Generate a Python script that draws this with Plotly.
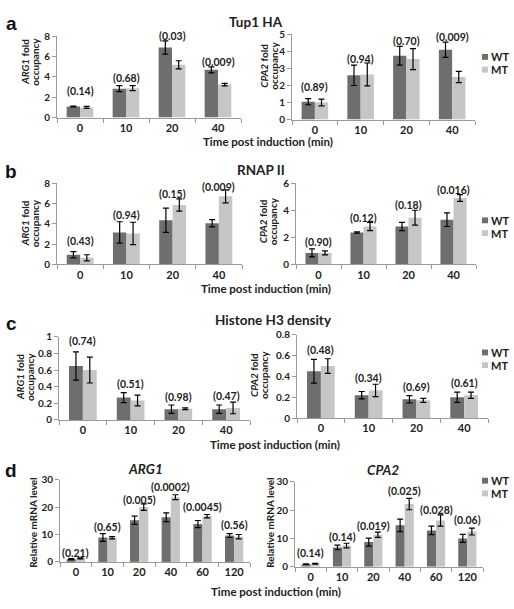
import plotly.graph_objects as go

W, H = 514, 609
WT_COLOR = "#6e6e6e"
MT_COLOR = "#c6c6c6"
AXIS_COLOR = "#9a9a9a"
FONT = "Lato"

# ---------------- data ----------------
time4 = ["0", "10", "20", "40"]
time6 = ["0", "10", "20", "40", "60", "120"]

# a: Tup1 HA
a_arg1_wt = [1.1, 2.85, 6.9, 4.7]
a_arg1_wt_err = [0.04, 0.3, 0.65, 0.3]
a_arg1_mt = [1.0, 2.9, 5.2, 3.25]
a_arg1_mt_err = [0.1, 0.25, 0.4, 0.12]
a_arg1_p = ["(0.14)", "(0.68)", "(0.03)", "(0.009)"]
a_arg1_p_y = [2.6, 3.9, 8.0, 5.5]

a_cpa2_wt = [1.05, 2.6, 3.75, 4.1]
a_cpa2_wt_err = [0.18, 0.6, 0.55, 0.45]
a_cpa2_mt = [1.0, 2.65, 3.55, 2.5]
a_cpa2_mt_err = [0.2, 0.67, 0.62, 0.33]
a_cpa2_p = ["(0.89)", "(0.94)", "(0.70)", "(0.009)"]
a_cpa2_p_y = [1.9, 3.55, 4.6, 4.85]

# b: RNAP II
b_arg1_wt = [0.95, 3.15, 4.35, 4.05]
b_arg1_wt_err = [0.3, 1.05, 1.2, 0.35]
b_arg1_mt = [0.65, 3.05, 5.85, 6.7]
b_arg1_mt_err = [0.3, 1.1, 0.6, 0.65]
b_arg1_p = ["(0.43)", "(0.94)", "(0.15)", "(0.009)"]
b_arg1_p_y = [2.3, 4.9, 6.9, 7.6]

b_cpa2_wt = [0.85, 2.35, 2.8, 3.3]
b_cpa2_wt_err = [0.3, 0.05, 0.3, 0.5]
b_cpa2_mt = [0.85, 2.8, 3.45, 4.9]
b_cpa2_mt_err = [0.15, 0.3, 0.55, 0.25]
b_cpa2_p = ["(0.90)", "(0.12)", "(0.18)", "(0.016)"]
b_cpa2_p_y = [1.65, 3.45, 4.35, 5.5]

# c: Histone H3 density
c_arg1_wt = [0.65, 0.27, 0.13, 0.13]
c_arg1_wt_err = [0.17, 0.06, 0.05, 0.05]
c_arg1_mt = [0.6, 0.235, 0.135, 0.145]
c_arg1_mt_err = [0.155, 0.065, 0.01, 0.07]
c_arg1_p = ["(0.74)", "(0.51)", "(0.98)", "(0.47)"]
c_arg1_p_y = [0.95, 0.43, 0.28, 0.29]

c_cpa2_wt = [0.45, 0.22, 0.18, 0.2]
c_cpa2_wt_err = [0.115, 0.035, 0.035, 0.05]
c_cpa2_mt = [0.5, 0.265, 0.17, 0.22]
c_cpa2_mt_err = [0.07, 0.06, 0.02, 0.03]
c_cpa2_p = ["(0.48)", "(0.34)", "(0.69)", "(0.61)"]
c_cpa2_p_y = [0.655, 0.385, 0.295, 0.34]

# d: relative mRNA level
d_arg1_wt = [1.0, 8.9, 15.2, 16.3, 13.8, 9.6]
d_arg1_wt_err = [0.2, 1.4, 1.5, 1.6, 1.3, 0.7]
d_arg1_mt = [1.3, 8.8, 20.0, 23.6, 16.7, 9.2]
d_arg1_mt_err = [0.2, 0.4, 1.2, 0.9, 0.6, 0.8]
d_arg1_p = ["(0.21)", "(0.65)", "(0.005)", "(0.0002)", "(0.0045)", "(0.56)"]
d_arg1_p_y = [3.4, 12.8, 22.6, 27.3, 20.1, 13.4]

d_cpa2_wt = [0.9, 6.8, 8.7, 14.6, 12.8, 10.0]
d_cpa2_wt_err = [0.1, 0.8, 1.4, 2.2, 1.5, 1.4]
d_cpa2_mt = [1.1, 7.5, 11.3, 22.1, 16.3, 12.4]
d_cpa2_mt_err = [0.15, 0.8, 0.9, 2.0, 2.0, 1.2]
d_cpa2_p = ["(0.14)", "(0.14)", "(0.019)", "(0.025)", "(0.028)", "(0.06)"]
d_cpa2_p_y = [4.9, 10.6, 14.5, 26.7, 20.1, 16.6]

# ---------------- layout helpers ----------------
def px(x):
    return x / W

def py(y):
    return 1 - y / H

panels = [
    dict(cats=time4, wt=a_arg1_wt, wte=a_arg1_wt_err, mt=a_arg1_mt, mte=a_arg1_mt_err,
         p=a_arg1_p, py=a_arg1_p_y, yr=[0, 8], dt=2, xd=(57, 241), yd=(30, 113),
         yt=["<i>ARG1</i> fold", "occupancy"], ytx=(25, 35), yty=56),
    dict(cats=time4, wt=a_cpa2_wt, wte=a_cpa2_wt_err, mt=a_cpa2_mt, mte=a_cpa2_mt_err,
         p=a_cpa2_p, py=a_cpa2_p_y, yr=[0, 5], dt=1, xd=(292, 475), yd=(28, 115),
         yt=["<i>CPA2</i> fold", "occupancy"], ytx=(264, 274), yty=60),
    dict(cats=time4, wt=b_arg1_wt, wte=b_arg1_wt_err, mt=b_arg1_mt, mte=b_arg1_mt_err,
         p=b_arg1_p, py=b_arg1_p_y, yr=[0, 8], dt=2, xd=(57, 242), yd=(180, 263),
         yt=["<i>ARG1</i> fold", "occupancy"], ytx=(25, 35), yty=221),
    dict(cats=time4, wt=b_cpa2_wt, wte=b_cpa2_wt_err, mt=b_cpa2_mt, mte=b_cpa2_mt_err,
         p=b_cpa2_p, py=b_cpa2_p_y, yr=[0, 6], dt=2, xd=(296, 476), yd=(180, 263),
         yt=["<i>CPA2</i> fold", "occupancy"], ytx=(263, 273), yty=219),
    dict(cats=time4, wt=c_arg1_wt, wte=c_arg1_wt_err, mt=c_arg1_mt, mte=c_arg1_mt_err,
         p=c_arg1_p, py=c_arg1_p_y, yr=[0, 1], dt=0.2, xd=(59, 250), yd=(337, 422),
         yt=["<i>ARG1</i> fold", "occupancy"], ytx=(20, 30), yty=378),
    dict(cats=time4, wt=c_cpa2_wt, wte=c_cpa2_wt_err, mt=c_cpa2_mt, mte=c_cpa2_mt_err,
         p=c_cpa2_p, py=c_cpa2_p_y, yr=[0, 0.8], dt=0.2, xd=(297, 488), yd=(335, 420),
         yt=["<i>CPA2</i> fold", "occupancy"], ytx=(254, 264), yty=376),
    dict(cats=time6, wt=d_arg1_wt, wte=d_arg1_wt_err, mt=d_arg1_mt, mte=d_arg1_mt_err,
         p=d_arg1_p, py=d_arg1_p_y, yr=[0, 30], dt=10, xd=(60, 250), yd=(483, 567),
         yt=["Relative mRNA level"], ytx=(33,), yty=527),
    dict(cats=time6, wt=d_cpa2_wt, wte=d_cpa2_wt_err, mt=d_cpa2_mt, mte=d_cpa2_mt_err,
         p=d_cpa2_p, py=d_cpa2_p_y, yr=[0, 30], dt=10, xd=(295, 483), yd=(485, 572),
         yt=["Relative mRNA level"], ytx=(270,), yty=527),
]

fig = go.Figure()
annotations = []
shapes = []
layout_axes = {}

xtickfont = dict(family=FONT, size=11, color="#222", weight="bold")
ytickfont = dict(family=FONT, size=10, color="#222", weight="bold")

for i, p in enumerate(panels, start=1):
    xa = "x" if i == 1 else f"x{i}"
    ya = "y" if i == 1 else f"y{i}"
    err_style = dict(type="data", color="black", thickness=1.2, width=3, visible=True)
    fig.add_trace(go.Bar(x=p["cats"], y=p["wt"], name="WT", marker_color=WT_COLOR,
                         marker_line_width=0,
                         error_y=dict(array=p["wte"], **err_style),
                         xaxis=xa, yaxis=ya, showlegend=False))
    fig.add_trace(go.Bar(x=p["cats"], y=p["mt"], name="MT", marker_color=MT_COLOR,
                         marker_line_width=0,
                         error_y=dict(array=p["mte"], **err_style),
                         xaxis=xa, yaxis=ya, showlegend=False))
    n = len(p["cats"])
    xkey = "xaxis" if i == 1 else f"xaxis{i}"
    ykey = "yaxis" if i == 1 else f"yaxis{i}"
    layout_axes[xkey] = dict(
        domain=[px(p["xd"][0]), px(p["xd"][1])], anchor=ya, type="category",
        categoryorder="array", categoryarray=p["cats"], range=[-0.5, n - 0.5],
        showline=True, linecolor=AXIS_COLOR, linewidth=1, tickangle=0,
        ticks="outside", tickson="boundaries", ticklen=4, tickcolor=AXIS_COLOR,
        tickfont=xtickfont, showgrid=False, zeroline=False, fixedrange=True,
    )
    layout_axes[ykey] = dict(
        domain=[py(p["yd"][1]), py(p["yd"][0])], anchor=xa, range=p["yr"],
        dtick=p["dt"], tick0=0, showline=True, linecolor=AXIS_COLOR, linewidth=1,
        ticks="outside", ticklen=4, tickcolor=AXIS_COLOR, tickfont=ytickfont,
        showgrid=False, zeroline=False, fixedrange=True,
    )
    # p-value labels (x given as category index)
    for j, (t, yv) in enumerate(zip(p["p"], p["py"])):
        annotations.append(dict(x=j, y=yv, xref=xa, yref=ya, text=t, showarrow=False,
                                font=dict(family=FONT, size=10.5, color="#222", weight="bold")))
    # y-axis titles
    for line, xx in zip(p["yt"], p["ytx"]):
        annotations.append(dict(x=px(xx), y=py(p["yty"]), xref="paper", yref="paper",
                                text=line, showarrow=False, textangle=-90,
                                xanchor="center", yanchor="middle",
                                font=dict(family=FONT, size=10, color="#222", weight="bold")))

# panel letters
for letter, yy in zip(["a", "b", "c", "d"], [17, 168, 323, 474]):
    annotations.append(dict(x=px(11), y=py(yy), xref="paper", yref="paper", text=letter,
                            showarrow=False, xanchor="center", yanchor="middle",
                            font=dict(family="Liberation Sans", size=19, color="#111", weight="bold")))

# section titles
titles = [("Tup1 HA", 256, 15), ("RNAP II", 261, 167), ("Histone H3 density", 273, 320),
          ("<i>ARG1</i>", 145, 472), ("<i>CPA2</i>", 383, 473)]
for t, xx, yy in titles:
    annotations.append(dict(x=px(xx), y=py(yy), xref="paper", yref="paper", text=t,
                            showarrow=False, xanchor="center", yanchor="middle",
                            font=dict(family=FONT, size=13.5, color="#222", weight="bold")))

# x-axis titles
for xx, yy in [(268, 137), (266, 288), (275, 447), (276, 597)]:
    annotations.append(dict(x=px(xx), y=py(yy), xref="paper", yref="paper",
                            text="Time post induction (min)", showarrow=False,
                            xanchor="center", yanchor="middle",
                            font=dict(family=FONT, size=11.5, color="#222", weight="bold")))

# legends (WT / MT keys)
for lx, ly in [(482, 51), (482, 218), (482, 353), (482, 484)]:
    for k, (lab, col) in enumerate([("WT", WT_COLOR), ("MT", MT_COLOR)]):
        yy = ly + k * 13
        shapes.append(dict(type="rect", xref="paper", yref="paper",
                           x0=px(lx), x1=px(lx + 6), y0=py(yy + 3), y1=py(yy - 3),
                           fillcolor=col, line=dict(width=0)))
        annotations.append(dict(x=px(lx + 7), y=py(yy), xref="paper", yref="paper",
                                text=lab, showarrow=False, xanchor="left", yanchor="middle",
                                font=dict(family=FONT, size=11, color="#222", weight="bold")))

fig.update_layout(
    width=W, height=H, margin=dict(l=0, r=0, t=0, b=0),
    paper_bgcolor="white", plot_bgcolor="white",
    barmode="group", bargap=0.42, bargroupgap=0,
    annotations=annotations, shapes=shapes, showlegend=False,
    **layout_axes,
)

fig.write_html("out.html", config={"displayModeBar": False},
               post_script="document.body.style.margin='0';document.body.style.overflow='hidden';")
